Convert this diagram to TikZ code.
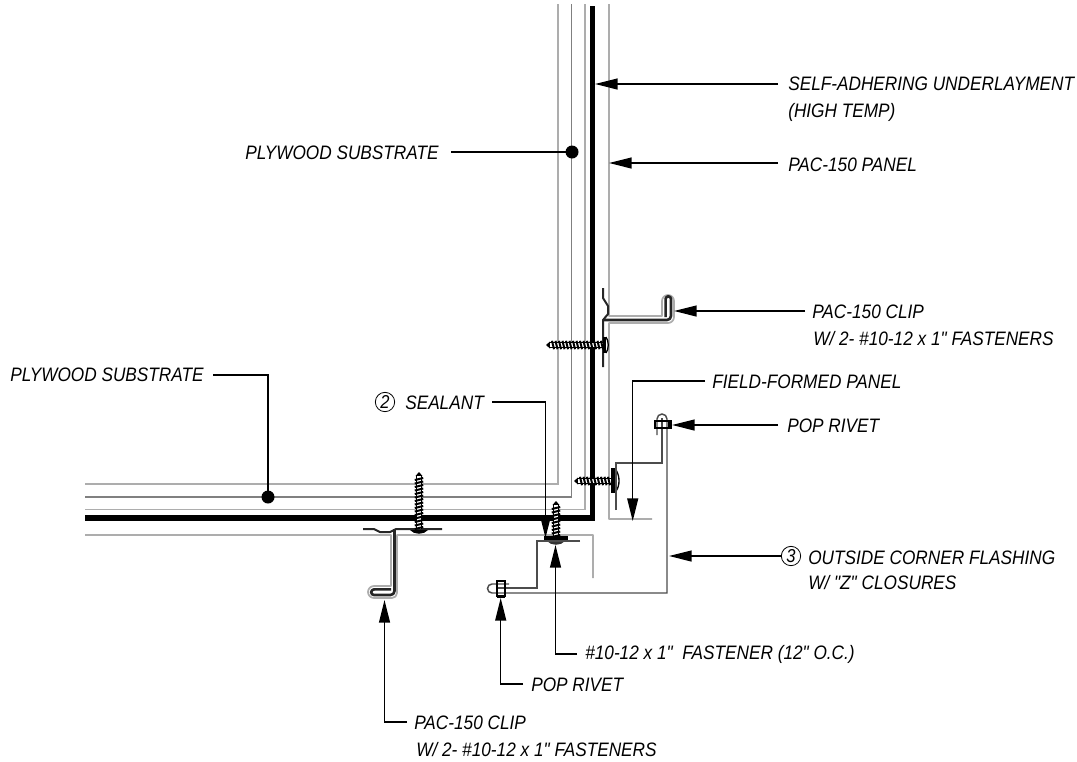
\documentclass[tikz,border=0pt]{standalone}
\usepackage{fontspec}
\setmainfont{Liberation Sans}[FakeStretch=0.885,Ligatures=TeXOff]
\usetikzlibrary{arrows.meta}
\definecolor{grayline}{gray}{0.68}
\definecolor{midline}{gray}{0.5}
\tikzset{
  lab/.style={anchor=base west,yshift=-5.25pt,inner sep=0pt,font=\itshape\fontsize{14.6}{16}\selectfont,text=black},
  leader/.style={line width=1.1pt,-{Stealth[length=17pt,width=8.2pt,inset=0pt]}},
  plainleader/.style={line width=1.1pt},
  grayl/.style={draw=grayline,line width=1.3pt},
  midl/.style={draw=midline,line width=0.9pt},
  memb/.style={draw=black,line width=4pt,line join=miter},
  clipl/.style={draw=black!85,line width=1.5pt,line join=round},
  flash/.style={draw=black!70,line width=1.1pt},
  rivet/.style={draw=black,line width=1pt},
  numc/.style={circle,draw=black,line width=0.6pt,inner sep=0pt,minimum size=14.5pt,font=\itshape\fontsize{14}{15}\selectfont},
  pics/screw/.style={code={
    \fill[black] (0,0) -- (4,-3.5) -- (4,3.5) -- cycle;
    \fill[white] (4,-3) rectangle (#1,3);
    \draw[black,line width=0.9pt] (4,-2.6) -- (#1,-2.6) (4,2.6) -- (#1,2.6);
    \foreach \t in {6,9.5,...,#1}{
      \draw[black,line width=1.5pt] (\t,-4.2) -- (\t+2,4.2);
    }
  }}
}
\begin{document}
\begin{tikzpicture}[x=0.75pt,y=-0.75pt]
\useasboundingbox (0,0) rectangle (1077,761);
% substrate layers
\draw[grayl] (558,4) -- (558,484) -- (85,484);
\draw[midl] (571.3,4) -- (571.3,497) -- (85,497);
\draw[grayl] (584.7,4) -- (584.7,509.5) -- (85,509.5);
% underlayment
\draw[memb] (592.7,6) -- (592.7,518) -- (85,518);
% panel with clip fold, vertical leg
\draw[grayl,line join=round] (609,4) -- (609,316) -- (662,316) -- (662,301) arc[start angle=180,end angle=360,radius=6] -- (674,317) arc[start angle=0,end angle=90,radius=6] -- (609,323) -- (609,519) -- (652,519);
% panel horizontal leg
\draw[grayl,line join=round] (85,535) -- (391,535) -- (391,586) -- (374,586) arc[start angle=270,end angle=90,radius=6] -- (392,598) arc[start angle=90,end angle=0,radius=5] -- (397,535) -- (593,535) -- (593,578);
% vertical clip
\draw[clipl] (603,288) -- (603,298) -- (608,306) -- (608,314) -- (603,320) -- (603,367);
\draw[clipl,line width=2pt] (603,320) -- (667,320) arc[start angle=90,end angle=0,radius=4] -- (671,299) arc[start angle=360,end angle=180,radius=2.7] -- (665.6,317);
% horizontal clip
\draw[clipl] (363,529) -- (374,529) -- (380,532) -- (390,532) -- (396,529) -- (442,529);
\draw[clipl,line width=2pt] (394.5,529) -- (394.5,591) arc[start angle=0,end angle=90,radius=4] -- (374,595) arc[start angle=90,end angle=270,radius=2.8] -- (391,589.4);
% screws
\pic[rotate=0] at (546,345) {screw=57};
\fill[black] (603,337) rectangle (606,353);
\draw[black,line width=1pt] (606,337) .. controls (609,341) and (609,349) .. (606,353);
\pic[rotate=-90] at (419,472) {screw=57};
\fill[black] (410,530) .. controls (414,535) and (424,535) .. (428,530) -- cycle;
\pic[rotate=0] at (574,481) {screw=37};
\fill[black] (611,468) rectangle (616,493);
\draw[black,line width=1pt] (616,470) .. controls (620,476) and (620,486) .. (616,491);
\pic[rotate=-90] at (556,501) {screw=35};
\fill[black] (544,536) rectangle (568,540);
\fill[black!80] (547,541) .. controls (551,546) and (561,546) .. (565,541) -- cycle;
% flashing Z pieces
\draw[flash] (616,510) -- (616,463) -- (662,463) -- (662,418);
\draw[flash] (580,541) -- (537,541) -- (537,588) -- (497,588);
\draw[flash] (657,435) -- (657,419) arc[start angle=180,end angle=360,radius=5] -- (667,593) -- (492,593) arc[start angle=90,end angle=270,radius=4.5] -- (509,584);
% rivets
\draw[rivet] (655,421) rectangle (671,428);
\draw[rivet] (497,581) rectangle (505,596);
\fill[black] (668,420) rectangle (671,429);
\fill[black] (497,595) rectangle (505,598);
% text
\node[lab] (a) at (788,83) {SELF-ADHERING UNDERLAYMENT};
\node[lab] (a2) at (788,110) {(HIGH TEMP)};
\node[lab] (b) at (788,164) {PAC-150 PANEL};
\node[lab] (c) at (245,152) {PLYWOOD SUBSTRATE};
\node[lab] (d) at (812,311) {PAC-150 CLIP};
\node[lab] (d2) at (813,338) {W/ 2- \#10-12 x 1" FASTENERS};
\node[lab] (e) at (712,381) {FIELD-FORMED PANEL};
\node[lab] (f) at (787,425) {POP RIVET};
\node[numc] (n3) at (791,556) {3};
\node[lab] (g) at (808,557) {OUTSIDE CORNER FLASHING};
\node[lab] (g2) at (808,582) {W/ "Z" CLOSURES};
\node[numc] (n2) at (385,402) {2};
\node[lab] (h) at (405,402) {SEALANT};
\node[lab] (i) at (10,374) {PLYWOOD SUBSTRATE};
\node[lab] (j) at (585,652) {\#10-12 x 1"\ \ FASTENER (12" O.C.)};
\node[lab] (k) at (531,684) {POP RIVET};
\node[lab] (l) at (414,722) {PAC-150 CLIP};
\node[lab] (l2) at (416,749) {W/ 2- \#10-12 x 1" FASTENERS};
% leader coordinates
\coordinate (sa) at (778,84);  \coordinate (ta) at (595,84);
\coordinate (sb) at (778,163); \coordinate (tb) at (609,163);
\coordinate (sc) at (451,152); \coordinate (tc) at (572,152);
\coordinate (sd) at (805,311); \coordinate (td) at (674,311);
\coordinate (se) at (705,381); \coordinate (be) at (632.7,381); \coordinate (te) at (632.7,521);
\coordinate (sf) at (778,425); \coordinate (tf) at (672,425);
\coordinate (sg) at (781,556); \coordinate (tg) at (669,556);
\coordinate (sh) at (492,402); \coordinate (bh) at (545.5,402); \coordinate (th) at (545.5,538);
\coordinate (si) at (213,375); \coordinate (bi) at (268,375); \coordinate (ti) at (268,497);
\coordinate (sj) at (577,654); \coordinate (bj) at (555.5,654); \coordinate (tj) at (555.5,545);
\coordinate (sk) at (523,684); \coordinate (bk) at (500.7,684); \coordinate (tk) at (500.7,598);
\coordinate (sl) at (407,722); \coordinate (bl) at (384.5,722); \coordinate (tl) at (384.5,600);
% leaders
\draw[leader] (sa) -- (ta);
\draw[leader] (sb) -- (tb);
\draw[plainleader] (sc) -- (tc);
\fill (tc) circle[radius=6.5];
\draw[leader] (sd) -- (td);
\draw[leader] (se) -- (be) -- (te);
\draw[leader] (sf) -- (tf);
\draw[leader] (sg) -- (tg);
\draw[leader] (sh) -- (bh) -- (th);
\draw[plainleader] (si) -- (bi) -- (ti);
\fill (ti) circle[radius=6.5];
\draw[leader] (sj) -- (bj) -- (tj);
\draw[leader] (sk) -- (bk) -- (tk);
\draw[leader] (sl) -- (bl) -- (tl);
\end{tikzpicture}
\end{document}
